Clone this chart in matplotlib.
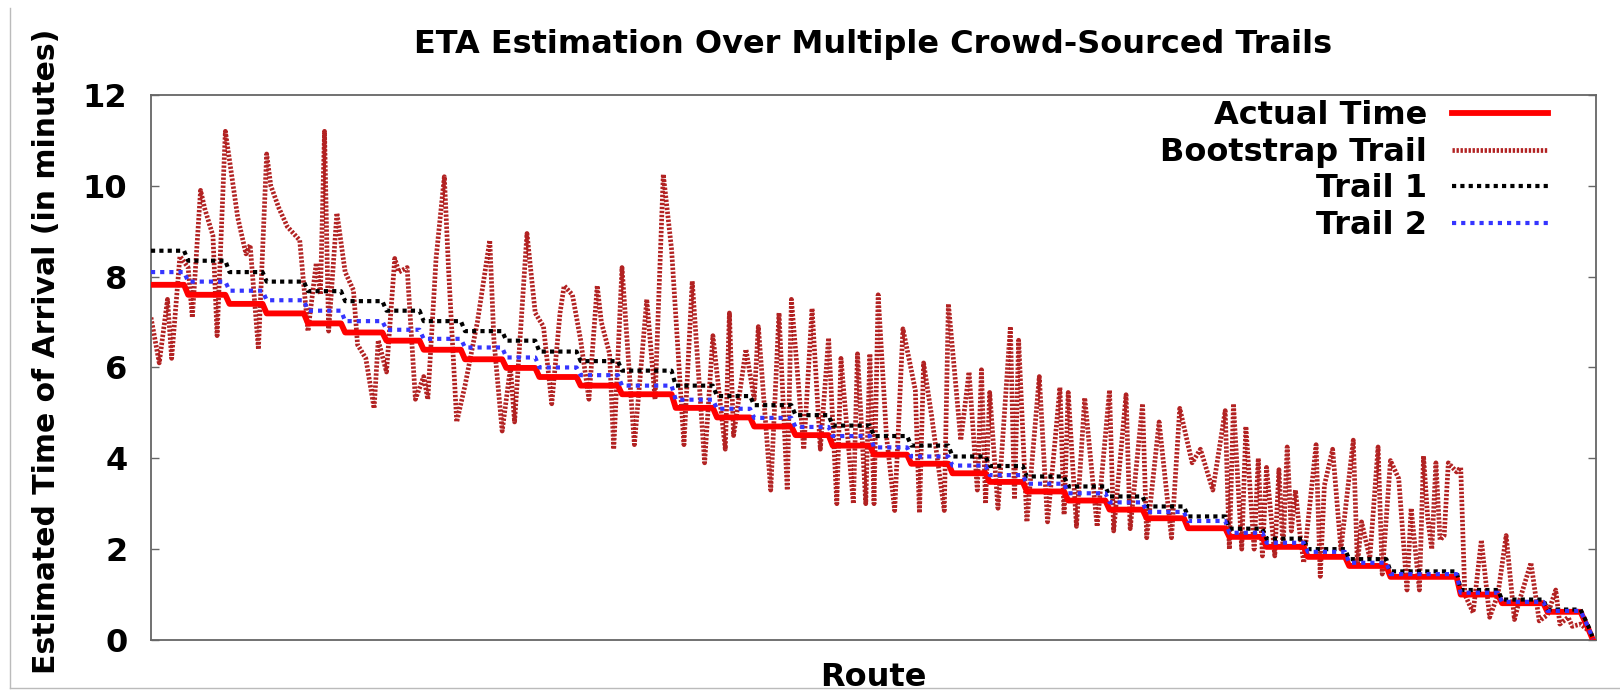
import numpy as np
import matplotlib.pyplot as plt
from matplotlib.lines import Line2D

plt.rcParams.update({
    'font.family': 'DejaVu Sans',
    'font.weight': 'bold',
    'figure.facecolor': 'white',
    'axes.facecolor': 'white',
})

# ── DATA ─────────────────────────────────────────────────────
# routes are sorted by actual time; each step = routes sharing one level
step_len = [9, 10, 9, 10, 9, 10, 9, 10, 10, 8,
            10, 10, 13, 10, 9, 10, 9, 10, 9, 10,
            9, 9, 10, 10, 9, 10, 10, 9, 10, 10,
            10, 17, 10, 11, 9]

actual_lvl = [7.82, 7.60, 7.40, 7.19, 6.97, 6.77, 6.59, 6.39, 6.18, 5.99,
              5.79, 5.60, 5.41, 5.11, 4.90, 4.70, 4.51, 4.28, 4.08, 3.88,
              3.67, 3.48, 3.27, 3.07, 2.87, 2.68, 2.46, 2.27, 2.05, 1.83,
              1.63, 1.39, 1.00, 0.81, 0.62]
trail1_lvl = [8.57, 8.35, 8.10, 7.89, 7.68, 7.46, 7.25, 7.02, 6.80, 6.59,
              6.35, 6.14, 5.93, 5.60, 5.37, 5.17, 4.95, 4.72, 4.49, 4.28,
              4.04, 3.83, 3.60, 3.38, 3.16, 2.94, 2.72, 2.45, 2.23, 2.00,
              1.78, 1.51, 1.10, 0.89, 0.67]
trail2_lvl = [8.10, 7.89, 7.69, 7.48, 7.25, 7.02, 6.83, 6.63, 6.44, 6.22,
              6.00, 5.83, 5.60, 5.29, 5.09, 4.89, 4.69, 4.49, 4.24, 4.04,
              3.84, 3.63, 3.44, 3.23, 3.03, 2.82, 2.62, 2.36, 2.14, 1.94,
              1.70, 1.45, 1.04, 0.84, 0.64]

# last few routes drop to zero
actual_tail = [0.42, 0.22, 0.00]
trail1_tail = [0.48, 0.28, 0.04]
trail2_tail = [0.45, 0.25, 0.02]

boot_route = [0, 2, 4, 5, 7, 9, 10, 12, 13, 15, 16, 18, 21, 23, 24, 26, 28, 29,
              31, 33, 36, 38, 40, 41, 42, 43, 45, 47, 49, 50, 52, 54, 55, 57,
              59, 60, 62, 64, 66, 67, 69, 71, 72, 74, 76, 79, 82, 83, 85, 87,
              88, 91, 93, 95, 97, 99, 100, 102, 104, 106, 108, 109, 111, 112,
              114, 117, 120, 122, 124, 126, 129, 131, 134, 136, 139, 140, 141,
              144, 146, 147, 150, 152, 154, 155, 158, 160, 162, 164, 166, 167,
              170, 171, 173, 174, 175, 176, 178, 180, 182, 185, 186, 187, 189,
              192, 193, 196, 198, 200, 201, 202, 203, 205, 208, 209, 210, 212,
              215, 217, 220, 221, 222, 224, 226, 229, 232, 233, 236, 237, 240,
              241, 244, 247, 249, 252, 254, 257, 260, 261, 262, 264, 265, 267,
              268, 269, 270, 272, 273, 274, 275, 276, 277, 278, 279, 282, 283,
              284, 286, 288, 291, 292, 293, 295, 297, 298, 300, 302, 304, 305,
              307, 308, 309, 310, 311, 312, 313, 314, 316, 317, 318, 320, 322,
              324, 326, 328, 330, 331, 334, 336, 338, 340, 341, 343, 344, 346,
              348, 349]
boot_eta = [7.1, 6.1, 7.5, 6.2, 8.45, 8.2, 7.1, 9.9, 9.5, 8.9, 6.7, 11.2, 9.3,
            8.5, 8.7, 6.4, 10.7, 10.0, 9.5, 9.1, 8.8, 6.8, 8.3, 7.6, 11.2, 6.8,
            9.4, 8.1, 7.7, 6.5, 6.2, 5.1, 6.6, 5.9, 8.4, 8.1, 8.2, 5.3, 5.8,
            5.3, 8.4, 10.2, 8.2, 4.8, 5.6, 7.0, 8.8, 6.6, 4.6, 6.0,
            4.8, 8.95, 7.2, 6.9, 5.2, 7.2, 7.8, 7.6, 6.6, 5.3, 7.8, 7.0, 6.3,
            4.2, 8.2, 4.3, 7.5, 5.3, 10.25, 8.6, 4.3, 7.9, 3.9, 6.7, 4.2, 7.2,
            4.5, 6.4, 5.3, 6.9, 3.3, 7.2, 3.3, 7.5, 4.2, 7.3, 4.2, 6.65, 3.0,
            6.2, 3.0, 6.3, 3.0, 6.3, 3.0, 7.6, 4.5, 2.85, 6.85, 5.5, 2.8, 6.1,
            4.9, 2.85, 7.4, 4.4, 5.9, 3.3, 5.95, 3.0, 5.45, 2.9, 6.9, 3.1, 6.6,
            2.6, 5.8, 2.6, 5.56, 2.76, 5.45, 2.5, 5.33, 2.5, 5.5, 2.4, 5.4,
            2.45, 5.2, 2.25, 4.8, 2.25, 5.1, 3.9, 4.2, 3.3, 5.05, 2.0, 5.2, 2.0,
            4.7, 2.0, 4.0, 1.85, 3.8, 1.85, 3.75, 2.0, 4.25, 2.4, 3.3, 2.4, 1.7,
            4.3, 1.4, 3.4, 4.2, 2.0, 4.4, 1.65, 2.6, 1.8, 4.25, 1.45, 3.95,
            3.55, 1.1, 2.9, 1.1, 4.05, 2.7, 2.0, 3.9, 2.2, 2.3, 3.9, 3.7, 3.8,
            1.0, 0.6, 2.2, 0.5, 1.0, 2.3, 0.45, 0.8, 1.7, 0.42, 0.55, 1.1,
            0.35, 0.5, 0.3, 0.35, 0.2, 0.05]

y_ticks = [0, 2, 4, 6, 8, 10, 12]

actual = np.concatenate([np.repeat(actual_lvl, step_len), actual_tail])
trail1 = np.concatenate([np.repeat(trail1_lvl, step_len), trail1_tail])
trail2 = np.concatenate([np.repeat(trail2_lvl, step_len), trail2_tail])
route = np.arange(len(actual))

# ── FIGURE ───────────────────────────────────────────────────
fig = plt.figure(figsize=(16.2, 6.9), dpi=100)
ax = fig.add_axes([0.0932, 0.0725, 0.8920, 0.7899])

ax.plot(boot_route, boot_eta, color='#b22222', linewidth=3.4,
        linestyle=(0, (0.5, 0.35)), label='Bootstrap Trail', zorder=2)
ax.plot(route, actual, color='#ff0000', linewidth=4.2,
        label='Actual Time', zorder=3)
ax.plot(route, trail1, color='black', linewidth=3.0,
        linestyle=(0, (1, 1)), label='Trail 1', zorder=4)
ax.plot(route, trail2, color='#3535ff', linewidth=3.0,
        linestyle=(0, (1, 1.2)), label='Trail 2', zorder=5)

ax.set_xlim(0, 349.75)
ax.set_ylim(0, 12)
ax.set_yticks(y_ticks)
ax.set_xticks([])
ax.tick_params(axis='y', direction='in', length=6, width=1, left=True,
               right=True, labelsize=23, pad=17, color='#666666')
for sp in ax.spines.values():
    sp.set_color('#666666')
    sp.set_linewidth(1.3)

h, l = ax.get_legend_handles_labels()
order = [1, 0, 2, 3]
ax.legend([h[i] for i in order], [l[i] for i in order],
          loc='upper right', bbox_to_anchor=(0.9668, 0.99),
          markerfirst=False, frameon=False, fontsize=23,
          handlelength=3.0, handletextpad=0.78, labelspacing=0.17,
          borderpad=0, borderaxespad=0)

fig.text(0.539, 0.923, 'ETA Estimation Over Multiple Crowd-Sourced Trails',
         ha='center', va='baseline', fontsize=23, fontweight='bold')
fig.text(0.029, 0.491, 'Estimated Time of Arrival (in minutes)',
         rotation=90, ha='center', va='center', fontsize=21.5,
         fontweight='bold')
fig.text(0.539, 0.006, 'Route', ha='center', va='baseline',
         fontsize=23, fontweight='bold')

# thin frame left / bottom of the original screenshot
fig.add_artist(Line2D([10 / 1620, 10 / 1620], [0.003, 1 - 8 / 690],
                      color='#bbbbbb', linewidth=1))
fig.add_artist(Line2D([10 / 1620, 1], [0.003, 0.003],
                      color='#bbbbbb', linewidth=1))

fig.savefig('out.png', dpi=100)
